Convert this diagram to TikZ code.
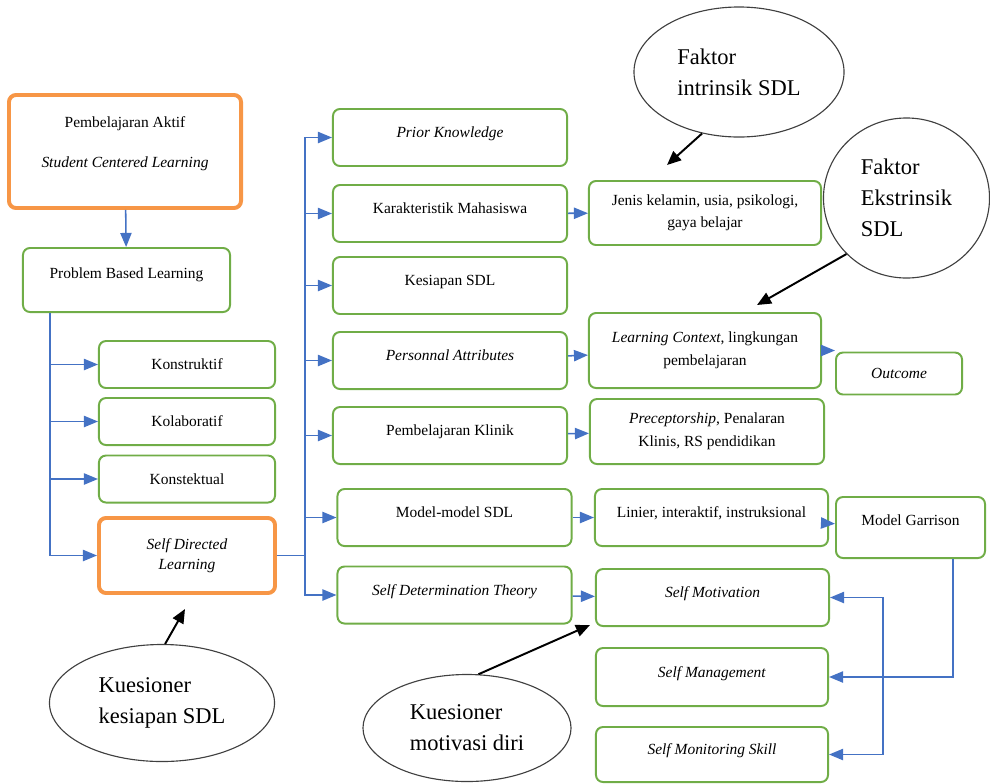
\documentclass[tikz,border=0pt]{standalone}
\usepackage{fontspec}
\setmainfont{Liberation Serif}
\usetikzlibrary{shapes.geometric,arrows.meta}
\definecolor{boxgreen}{RGB}{112,173,71}
\definecolor{boxorange}{RGB}{247,150,70}
\definecolor{linkblue}{RGB}{68,114,196}
\begin{document}
\begin{tikzpicture}[x=0.025cm,y=-0.025cm]
    \tikzstyle{box} = [rectangle, rounded corners=5pt, draw=boxgreen, line width=1.4pt, align=center, text centered, inner sep=1pt, font=\fontsize{11}{16}\selectfont]
    \tikzstyle{high} = [text depth=7.5pt]
    \tikzstyle{mainbox} = [box, draw=boxorange, line width=2.8pt]
    \tikzstyle{colbox} = [box, minimum width=5.85cm, minimum height=1.425cm]
    \tikzstyle{bubble} = [ellipse, draw=black!75, line width=0.8pt, inner sep=0pt, align=left, font=\fontsize{16}{22}\selectfont]
    \tikzstyle{arrow} = [linkblue, line width=1.1pt, -{Triangle[length=10pt,width=8pt]}]
    \tikzstyle{pointer} = [black, line width=1.4pt, -{Triangle[length=10pt,width=8.5pt]}]

    \useasboundingbox (0,0) rectangle (990,783);

    % left column
    \node (aktif) [mainbox, minimum width=5.8cm, minimum height=2.825cm, text depth=13pt] at (125,151.5) {Pembelajaran Aktif\\[12.5pt]\textit{Student Centered Learning}};
    \node (pbl) [box, minimum width=5.175cm, minimum height=1.6cm, text depth=10pt] at (126.5,280) {Problem Based Learning};
    \node (konstruktif) [box, minimum width=4.4cm, minimum height=1.175cm] at (187,364.5) {Konstruktif};
    \node (kolaboratif) [box, minimum width=4.4cm, minimum height=1.175cm] at (187,421.5) {Kolaboratif};
    \node (konstektual) [box, minimum width=4.4cm, minimum height=1.175cm] at (187,479) {Konstektual};
    \node (sdl) [mainbox, minimum width=4.4cm, minimum height=1.875cm, font=\fontsize{11}{14}\selectfont\itshape] at (187,555.5) {Self Directed\\Learning};

    % second column
    \node (prior) [colbox, high] at (450,137.5) {\textit{Prior Knowledge}};
    \node (karakter) [colbox, high] at (450,213.5) {Karakteristik Mahasiswa};
    \node (kesiapan) [colbox, high] at (450,285.5) {Kesiapan SDL};
    \node (personal) [colbox, high] at (450,360.5) {\textit{Personnal Attributes}};
    \node (klinik) [colbox, high] at (450,435.5) {Pembelajaran Klinik};
    \node (modelsdl) [colbox, high] at (454.5,517.5) {Model-model SDL};
    \node (sdt) [colbox, high] at (454.5,595) {\textit{Self Determination Theory}};

    % third column
    \node (jenis) [box, minimum width=5.8cm, minimum height=1.6cm] at (705,213) {Jenis kelamin, usia, psikologi,\\gaya belajar};
    \node (context) [box, minimum width=5.8cm, minimum height=1.875cm] at (705,350.5) {\textit{Learning Context}, lingkungan\\pembelajaran};
    \node (precept) [box, minimum width=5.85cm, minimum height=1.625cm] at (707,431.5) {\textit{Preceptorship}, Penalaran\\Klinis, RS pendidikan};
    \node (linier) [colbox, high, minimum width=5.825cm] at (711.5,517.5) {Linier, interaktif, instruksional};
    \node (selfmot) [colbox, high, minimum width=5.825cm] at (712.5,597.5) {\textit{Self Motivation}};
    \node (selfman) [colbox, high, minimum width=5.8cm, minimum height=1.45cm] at (712,677) {\textit{Self Management}};
    \node (selfmon) [colbox, high, minimum width=5.8cm, minimum height=1.375cm] at (712,754.5) {\textit{Self Monitoring Skill}};

    % fourth column
    \node (outcome) [box, minimum width=3.15cm, minimum height=1.05cm] at (899,373.5) {\textit{Outcome}};
    \node (garrison) [box, minimum width=3.725cm, minimum height=1.525cm, text depth=11pt] at (910.5,527.5) {Model Garrison};

    % questions and factors
    \node (intrinsik) [bubble, minimum width=5.25cm, minimum height=3.25cm] at (739,72) {Faktor\\intrinsik SDL};
    \node (ekstrinsik) [bubble, minimum width=4.15cm, minimum height=4cm] at (906.5,198) {Faktor\\Ekstrinsik\\SDL};
    \node (kuesdl) [bubble, minimum width=5.625cm, minimum height=2.925cm] at (162,703) {Kuesioner\\kesiapan SDL};
    \node (kuemot) [bubble, minimum width=5.2cm, minimum height=2.675cm] at (467,728) {Kuesioner\\motivasi diri};

    \coordinate (lbus) at (50,0);
    \coordinate (rbus) at (305,555.5);
    \coordinate (split) at (883,677);
    \coordinate (intip) at (667,165);
    \coordinate (extip) at (757,305);
    \coordinate (sdltip) at (185,609);
    \coordinate (mottip) at (590,625);

    \draw [arrow] (aktif) -- (pbl);
    \draw [arrow] (pbl.south -| lbus) |- (konstruktif.west);
    \draw [arrow] (pbl.south -| lbus) |- (kolaboratif.west);
    \draw [arrow] (pbl.south -| lbus) |- (konstektual.west);
    \draw [arrow] (pbl.south -| lbus) |- (sdl.west);

    \draw [linkblue, line width=1.1pt] (sdl.east) -- (rbus);
    \draw [arrow] (rbus) |- (prior.west);
    \draw [arrow] (rbus) |- (karakter.west);
    \draw [arrow] (rbus) |- (kesiapan.west);
    \draw [arrow] (rbus) |- (personal.west);
    \draw [arrow] (rbus) |- (klinik.west);
    \draw [arrow] (rbus) |- (modelsdl.west);
    \draw [arrow] (rbus) |- (sdt.west);

    \draw [arrow] (karakter) -- (jenis);
    \draw [arrow] (personal) -- (context);
    \draw [arrow] (klinik) -- (precept);
    \draw [arrow] (modelsdl) -- (linier);
    \draw [arrow] (sdt) -- (selfmot);
    \draw [arrow] (context.east) -- (context.east -| outcome.west);
    \draw [arrow] (linier) -- (garrison);

    \draw [arrow] ([xshift=1.06cm]garrison.south) |- (selfman.east);
    \draw [arrow] (split) |- (selfmot.east);
    \draw [arrow] (split) |- (selfmon.east);

    \draw [pointer] (intrinsik.239) -- (intip);
    \draw [pointer] (ekstrinsik.223) -- (extip);
    \draw [pointer] (kuesdl.87) -- (sdltip);
    \draw [pointer] (kuemot.78) -- (mottip);
\end{tikzpicture}
\end{document}
